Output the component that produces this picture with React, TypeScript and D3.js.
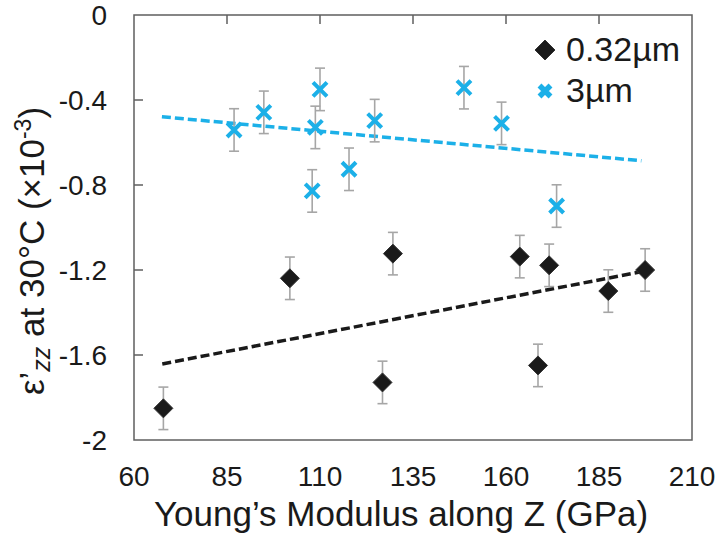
import React, { useEffect, useRef } from 'react';
import * as d3 from 'd3';

// 0.32 um series (GPa, strain x1e-3)
const modulusSmall = [67.9, 101.9, 126.8, 129.6, 163.7, 168.6, 171.6, 187.5, 197.4];
const strainSmall = [-1.851, -1.239, -1.729, -1.123, -1.137, -1.649, -1.178, -1.299, -1.2];
const errSmall = [0.1, 0.1, 0.1, 0.1, 0.1, 0.1, 0.1, 0.1, 0.1];

// 3 um series
const modulusLarge = [86.9, 94.9, 107.9, 108.75, 110, 117.8, 124.7, 148.7, 158.8, 173.6];
const strainLarge = [-0.541, -0.458, -0.828, -0.529, -0.35, -0.726, -0.497, -0.342, -0.51, -0.899];
const errLarge = [0.1, 0.1, 0.1, 0.1, 0.1, 0.1, 0.1, 0.1, 0.1, 0.1];

// trend lines (end points)
const trendSmall = [[67.6, -1.642], [197.4, -1.205]];
const trendLarge = [[67.5, -0.479], [196.4, -0.686]];

const xTicks = [60, 85, 110, 135, 160, 185, 210];
const yTicks = [0, -0.4, -0.8, -1.2, -1.6, -2];

const BLUE = '#1cb0e8';
const DARK = '#1a1a1a';
const FONT = '"Liberation Sans", Arial, sans-serif';

const Chart = () => {
  const svgRef = useRef(null);

  useEffect(() => {
    const svg = d3.select(svgRef.current);
    svg.selectAll('*').remove();

    const left = 134, right = 692, top = 15, bottom = 440;
    const x = d3.scaleLinear().domain([60, 210]).range([left, right]);
    const y = d3.scaleLinear().domain([0, -2]).range([top, bottom]);

    // frame
    svg.append('rect')
      .attr('x', left).attr('y', top)
      .attr('width', right - left).attr('height', bottom - top)
      .attr('fill', 'none').attr('stroke', '#5f5f5f').attr('stroke-width', 1.5);

    // inward ticks on top and left
    svg.append('g').selectAll('line').data(xTicks.slice(1, -1)).enter().append('line')
      .attr('x1', (d) => x(d)).attr('x2', (d) => x(d))
      .attr('y1', top).attr('y2', top + 9)
      .attr('stroke', '#5f5f5f').attr('stroke-width', 1.5);
    svg.append('g').selectAll('line').data(yTicks.slice(1, -1)).enter().append('line')
      .attr('x1', left).attr('x2', left + 9)
      .attr('y1', (d) => y(d)).attr('y2', (d) => y(d))
      .attr('stroke', '#5f5f5f').attr('stroke-width', 1.5);

    // tick labels
    svg.append('g').selectAll('text').data(xTicks).enter().append('text')
      .attr('x', (d) => x(d)).attr('y', 486)
      .attr('text-anchor', 'middle')
      .attr('font-family', FONT).attr('font-size', 28).attr('fill', '#1a1a1a')
      .text((d) => d);
    svg.append('g').selectAll('text').data(yTicks).enter().append('text')
      .attr('x', 107).attr('y', (d) => y(d) + 10)
      .attr('text-anchor', 'end')
      .attr('font-family', FONT).attr('font-size', 28).attr('fill', '#1a1a1a')
      .text((d) => String(d));

    // axis titles
    svg.append('text')
      .attr('x', 401).attr('y', 526)
      .attr('text-anchor', 'middle')
      .attr('font-family', FONT).attr('font-size', 35).attr('fill', '#1a1a1a')
      .text('Young\u2019s Modulus along Z (GPa)');

    const yt = svg.append('text')
      .attr('transform', 'translate(44,251) rotate(-90)')
      .attr('text-anchor', 'middle')
      .attr('font-family', FONT).attr('font-size', 35).attr('fill', '#1a1a1a');
    yt.append('tspan').text('\u03b5\u2019');
    yt.append('tspan').attr('font-size', 25).attr('font-style', 'italic').attr('dy', 6).text('zz');
    yt.append('tspan').attr('dy', -6).text(' at 30\u00b0C (\u00d710');
    yt.append('tspan').attr('font-size', 23).attr('dy', -13).text('-3');
    yt.append('tspan').attr('dy', 13).text(')');

    // trend lines
    const line = d3.line().x((d) => x(d[0])).y((d) => y(d[1]));
    svg.append('path').attr('d', line(trendSmall))
      .attr('fill', 'none').attr('stroke', DARK).attr('stroke-width', 3.5)
      .attr('stroke-dasharray', '9,4');
    svg.append('path').attr('d', line(trendLarge))
      .attr('fill', 'none').attr('stroke', BLUE).attr('stroke-width', 3.5)
      .attr('stroke-dasharray', '9,4');

    const small = modulusSmall.map((m, i) => ({ m, s: strainSmall[i], e: errSmall[i] }));
    const large = modulusLarge.map((m, i) => ({ m, s: strainLarge[i], e: errLarge[i] }));

    // error bars
    const drawErr = (data) => {
      const g = svg.append('g').attr('stroke', '#a6a6a6').attr('stroke-width', 1.6);
      data.forEach((d) => {
        const cx = x(d.m);
        g.append('line').attr('x1', cx).attr('x2', cx).attr('y1', y(d.s + d.e)).attr('y2', y(d.s - d.e));
        g.append('line').attr('x1', cx - 5).attr('x2', cx + 5).attr('y1', y(d.s + d.e)).attr('y2', y(d.s + d.e));
        g.append('line').attr('x1', cx - 5).attr('x2', cx + 5).attr('y1', y(d.s - d.e)).attr('y2', y(d.s - d.e));
      });
    };
    drawErr(small);
    drawErr(large);

    const diamond = (g, cx, cy, r) => g.append('path')
      .attr('d', `M${cx},${cy - r}L${cx + r},${cy}L${cx},${cy + r}L${cx - r},${cy}Z`)
      .attr('fill', DARK).attr('stroke', '#333').attr('stroke-width', 1);
    const cross = (g, cx, cy, r, w) => g.append('path')
      .attr('d', `M${cx - r},${cy - r}L${cx + r},${cy + r}M${cx - r},${cy + r}L${cx + r},${cy - r}`)
      .attr('stroke', BLUE).attr('stroke-width', w).attr('fill', 'none');

    const markers = svg.append('g');
    small.forEach((d) => diamond(markers, x(d.m), y(d.s), 9.5));
    large.forEach((d) => cross(markers, x(d.m), y(d.s), 7, 4));

    // legend
    const lg = svg.append('g');
    diamond(lg, 545, 50, 10);
    lg.append('text').attr('x', 566).attr('y', 61)
      .attr('font-family', FONT).attr('font-size', 34).attr('fill', '#1a1a1a').text('0.32\u00b5m');
    cross(lg, 545, 91, 5.5, 5.5);
    lg.append('text').attr('x', 566).attr('y', 102)
      .attr('font-family', FONT).attr('font-size', 34).attr('fill', '#1a1a1a').text('3\u00b5m');
  }, []);

  return <svg ref={svgRef} width="719" height="540" style={{ display: 'block' }} />;
};

export default function App() {
  return (
    <div style={{ position: 'absolute', left: 0, top: 0, background: '#fff' }}>
      <Chart />
    </div>
  );
}
